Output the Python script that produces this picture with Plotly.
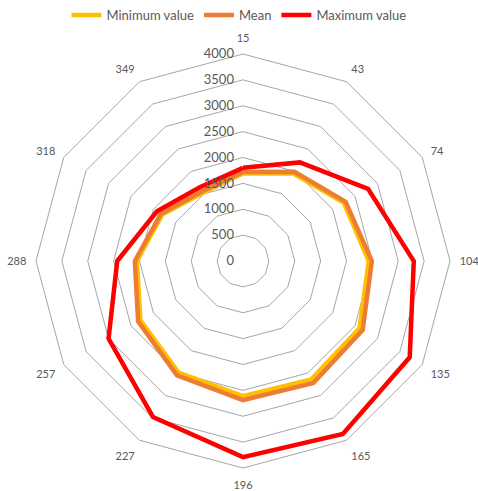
import plotly.graph_objects as go

categories = ["15", "43", "74", "104", "135", "165", "196", "227", "257", "288", "318", "349"]
min_values = [1690, 1950, 2250, 2430, 2600, 2640, 2610, 2490, 2290, 2050, 1800, 1530]
mean_values = [1720, 1990, 2290, 2490, 2670, 2720, 2690, 2550, 2340, 2090, 1830, 1560]
max_values = [1800, 2200, 2790, 3300, 3720, 3860, 3790, 3480, 3000, 2430, 1920, 1650]
radial_ticks = [0, 500, 1000, 1500, 2000, 2500, 3000, 3500, 4000]

series = [
    ("Minimum value", min_values, "#FFC000"),
    ("Mean", mean_values, "#ED7D31"),
    ("Maximum value", max_values, "#FF0000"),
]

fig = go.Figure()
for name, vals, color in series:
    fig.add_trace(go.Scatterpolar(
        r=vals + vals[:1],
        theta=categories + categories[:1],
        mode="lines",
        name=name,
        line=dict(color=color, width=4.5),
    ))

W, H = 478, 491
fig.update_layout(
    width=W, height=H,
    margin=dict(l=0, r=0, t=0, b=0),
    paper_bgcolor="white",
    plot_bgcolor="white",
    font=dict(family="Lato, Open Sans, sans-serif", color="#595959", size=12),
    showlegend=True,
    legend=dict(orientation="h", x=0.5, xanchor="center", y=1.0, yanchor="top",
                font=dict(size=13, color="#595959"), itemwidth=30),
    polar=dict(
        domain=dict(x=[36 / W, 450 / W], y=[1 - 468 / H, 1 - 54 / H]),
        bgcolor="white",
        gridshape="linear",
        radialaxis=dict(
            range=[0, 4000],
            tickvals=radial_ticks,
            ticktext=[str(v) for v in radial_ticks],
            angle=90,
            side="counterclockwise",
            tickangle=90,
            showline=False,
            ticks="outside",
            ticklen=4,
            tickcolor="rgba(0,0,0,0)",
            gridcolor="#A6A6A6",
            gridwidth=1,
            tickfont=dict(size=13, color="#595959"),
        ),
        angularaxis=dict(
            type="category",
            categoryarray=categories,
            direction="clockwise",
            rotation=90,
            showgrid=False,
            showline=True,
            linecolor="#A6A6A6",
            linewidth=1,
            ticks="outside",
            ticklen=7,
            tickcolor="rgba(0,0,0,0)",
            tickfont=dict(size=11, color="#595959"),
        ),
    ),
)

fig.write_html("out.html")
